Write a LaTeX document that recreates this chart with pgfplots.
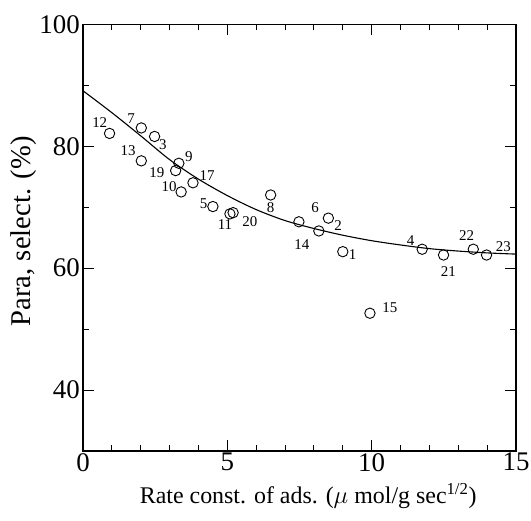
\documentclass[border=0pt]{standalone}
\usepackage{pgfplots}
\pgfplotsset{compat=1.18}
\usepackage{fontspec}
\setmainfont{Liberation Serif}
\begin{document}
\begin{tikzpicture}
\useasboundingbox (-83bp,-70bp) rectangle (448bp,451bp);
\begin{axis}[
  at={(0bp,0bp)}, anchor=south west,
  width=433bp, height=426.7bp, scale only axis,
  xmin=0, xmax=15, ymin=30, ymax=100,
  xtick={0,5,10,15}, minor xtick={1,2,3,4,6,7,8,9,11,12,13,14},
  ytick={40,60,80,100}, minor ytick={50,70,90},
  tick align=inside,
  major tick length=11bp, minor tick length=6bp,
  axis line style={line width=1.2bp},
  every tick/.style={line width=1bp, black},
  tick label style={font=\fontsize{27}{27}\selectfont, /pgf/number format/assume math mode=true},
  xticklabel style={inner sep=0pt, yshift=-2bp},
  yticklabel style={inner sep=0pt, xshift=-3bp},
  xlabel={Rate const. of ads. ($\mu$ mol/g sec\textsuperscript{1/2})},
  ylabel={Para, select. (\%)},
  xlabel style={font=\fontsize{24}{24}\selectfont, at={(axis description cs:0.52,-0.105)}, anchor=center},
  ylabel style={font=\fontsize{28.7}{28.7}\selectfont, at={(axis description cs:-0.136,0.515)}, anchor=center},
  clip=false,
]
\addplot[smooth, line width=1.1bp, black] coordinates {
 (0,89.1) (1,85.5) (2,81.7) (3,77.8) (4,74.6) (5,71.9) (6,69.6) (7,67.8)
 (8,66.5) (9,65.4) (10,64.5) (11,63.8) (12,63.2) (13,62.8) (14,62.5) (15,62.3)
};
\addplot[only marks, mark=o, mark size=5.2bp, mark options={line width=0.9bp, black}] coordinates {
 (0.92,82.1) (2.02,83.0) (2.48,81.6) (2.02,77.6) (3.32,77.2) (3.21,76.0)
 (3.81,74.0) (3.40,72.5) (4.50,70.1) (5.09,68.9) (5.20,69.1) (6.50,72.0)
 (7.48,67.6) (8.17,66.1) (8.50,68.2) (9.00,62.7) (11.75,63.1) (12.49,62.15)
 (13.52,63.1) (13.98,62.15) (9.94,52.6)
};
\begin{scope}[every node/.style={font=\fontsize{15}{15}\selectfont, inner sep=0pt}]
\node at (axis cs:0.58,83.9) {12};
\node at (axis cs:1.67,84.6) {7};
\node at (axis cs:2.77,80.3) {3};
\node at (axis cs:1.56,79.2) {13};
\node at (axis cs:3.67,78.3) {9};
\node at (axis cs:2.56,75.7) {19};
\node at (axis cs:4.30,75.2) {17};
\node at (axis cs:2.98,73.35) {10};
\node at (axis cs:4.18,70.5) {5};
\node at (axis cs:4.92,67.1) {11};
\node at (axis cs:5.78,67.6) {20};
\node at (axis cs:6.50,69.9) {8};
\node at (axis cs:8.04,69.9) {6};
\node at (axis cs:7.58,63.9) {14};
\node at (axis cs:8.84,67.0) {2};
\node at (axis cs:9.34,62.3) {1};
\node at (axis cs:11.35,64.6) {4};
\node at (axis cs:12.66,59.4) {21};
\node at (axis cs:13.29,65.3) {22};
\node at (axis cs:14.56,63.6) {23};
\node at (axis cs:10.63,53.6) {15};
\end{scope}
\end{axis}
\end{tikzpicture}
\end{document}
